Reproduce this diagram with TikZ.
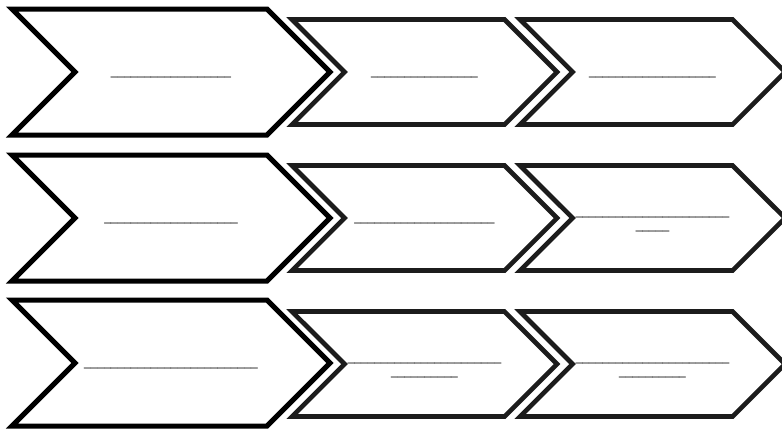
\documentclass[tikz,border=0pt]{standalone}
\usepackage{fontspec}
\setmainfont{Liberation Sans}
\usetikzlibrary{shapes.symbols}
\definecolor{edgedark}{HTML}{1C1C1C}

\begin{document}
\begin{tikzpicture}[x=1pt, y=-1pt,
  chev/.style={signal, signal from=west, signal to=east, signal pointer angle=90,
    fill=white, line join=miter, inner sep=0pt, outer sep=0pt, align=center,
    font=\fontsize{12}{14}\selectfont,
    execute at begin node=\rule[-4.2pt]{0pt}{15.8pt},
    execute at end node=\rule[-4.2pt]{0pt}{0pt}},
  twoline/.style={execute at begin node=\rule[-4.2pt]{0pt}{31.8pt}},
  bigchev/.style={chev, draw=black, line width=5pt,
    minimum width=318pt, minimum height=126pt},
  smallchev/.style={chev, draw=edgedark, line width=4.6pt,
    minimum width=265pt, minimum height=105pt}]
  \useasboundingbox (0,0) rectangle (782,429);

  % first row
  \node[bigchev] (big1) at (171,72) {\_\_\_\_\_\_\_\_\_\_\_\_\_\_\_\_\_\_};
  \node[smallchev] (mid1) at (424.5,72) {\_\_\_\_\_\_\_\_\_\_\_\_\_\_\_\_};
  \node[smallchev] (end1) at (652.5,72) {\_\_\_\_\_\_\_\_\_\_\_\_\_\_\_\_\_\_\_};

  % second row
  \node[bigchev] (big2) at (171,218) {\_\_\_\_\_\_\_\_\_\_\_\_\_\_\_\_\_\_\_\_};
  \node[smallchev] (mid2) at (424.5,218) {\_\_\_\_\_\_\_\_\_\_\_\_\_\_\_\_\_\_\_\_\_};
  \node[smallchev, twoline] (end2) at (652.5,218) {\_\_\_\_\_\_\_\_\_\_\_\_\_\_\_\_\_\_\_\_\_\_\_\\\_\_\_\_\_};

  % third row
  \node[bigchev] (big3) at (171,363) {\_\_\_\_\_\_\_\_\_\_\_\_\_\_\_\_\_\_\_\_\_\_\_\_\_\_};
  \node[smallchev, twoline] (mid3) at (424.5,364) {\_\_\_\_\_\_\_\_\_\_\_\_\_\_\_\_\_\_\_\_\_\_\_\\\_\_\_\_\_\_\_\_\_\_};
  \node[smallchev, twoline] (end3) at (652.5,364) {\_\_\_\_\_\_\_\_\_\_\_\_\_\_\_\_\_\_\_\_\_\_\_\\\_\_\_\_\_\_\_\_\_\_};
\end{tikzpicture}
\end{document}
